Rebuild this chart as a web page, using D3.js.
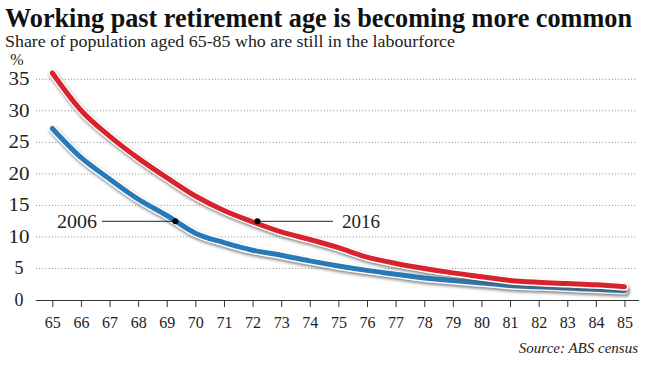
<!DOCTYPE html>
<html><head><meta charset="utf-8">
<script src="https://cdn.jsdelivr.net/npm/d3@7/dist/d3.min.js"></script>
<style>body{margin:0;background:#fff}svg{display:block}
svg text{font-family:"Liberation Serif","Times New Roman","DejaVu Serif",serif !important}</style>
</head><body>
<script>
const ages = [65,66,67,68,69,70,71,72,73,74,75,76,77,78,79,80,81,82,83,84,85];
const y2006 = [27.2,22.6,19.2,16.0,13.4,10.6,9.1,7.9,7.1,6.2,5.4,4.7,4.1,3.5,3.1,2.7,2.3,2.1,1.9,1.7,1.5];
const y2016 = [36.0,30.1,26.0,22.5,19.4,16.5,14.2,12.4,10.8,9.6,8.3,6.8,5.8,5.0,4.3,3.7,3.1,2.8,2.6,2.4,2.1];
const yTicks = [0,5,10,15,20,25,30,35];
const seriesNames = ["2006","2016"];
const labelPoints = [69.3, 72.17];

const W=649,H=365;
const svg=d3.select("body").append("svg").attr("width",W).attr("height",H);
const x=d3.scaleLinear().domain([65,85]).range([52.3,624.5]);
const y=d3.scaleLinear().domain([0,35]).range([300,79.3]);

const defs=svg.append("defs");
const f=defs.append("filter").attr("id","sh").attr("x","-10%").attr("y","-10%").attr("width","120%").attr("height","130%");
f.append("feGaussianBlur").attr("stdDeviation",1.6);

svg.append("g").attr("transform","translate(5,27) scale(1,1.12)")
  .append("text").attr("x",0).attr("y",0).attr("font-weight","bold")
  .attr("font-size",24).attr("textLength",627).attr("lengthAdjust","spacingAndGlyphs").attr("fill","#111")
  .text("Working past retirement age is becoming more common");
svg.append("g").attr("transform","translate(5,47) scale(1,1.15)")
  .append("text").attr("x",0).attr("y",0)
  .attr("font-size",14.5).attr("textLength",450).attr("lengthAdjust","spacingAndGlyphs").attr("fill","#222")
  .text("Share of population aged 65-85 who are still in the labourforce");
svg.append("text").attr("x",17).attr("y",65).attr("text-anchor","middle")
  .attr("font-size",16).attr("fill","#222").text("%");

// gridlines
svg.append("g").selectAll("line").data(yTicks.filter(d=>d>0)).join("line")
  .attr("x1",36).attr("x2",636).attr("y1",d=>y(d)).attr("y2",d=>y(d))
  .attr("stroke","#8a8a8a").attr("stroke-width",1).attr("stroke-dasharray","1,2.2");
// y labels
svg.append("g").selectAll("text").data(yTicks).join("text")
  .attr("x",19).attr("y",d=>y(d)+6).attr("text-anchor","middle")
  .attr("font-size",18).attr("fill","#222").attr("textLength",d=>String(d).length>1?21:null)
  .attr("lengthAdjust","spacingAndGlyphs").text(d=>d);

// x axis
const xa=svg.append("g").attr("transform","translate(0,300)")
  .call(d3.axisBottom(x).tickValues(ages).tickSize(7).tickPadding(9).tickFormat(d3.format("d")));
xa.attr("font-family",null);
xa.select(".domain").attr("d","M36,0.5H639").attr("stroke","#333");
xa.selectAll(".tick line").attr("stroke","#333");
xa.selectAll(".tick text").attr("font-size",17).attr("fill","#222")
  .attr("textLength",16).attr("lengthAdjust","spacingAndGlyphs");

const line=d3.line().x((d,i)=>x(ages[i])).y(d=>y(d)).curve(d3.curveMonotoneX);
const cols=["#2879b8","#d8222c"];
[y2006,y2016].forEach((vals,k)=>{
  const g=svg.append("g");
  g.append("path").attr("d",line(vals)).attr("fill","none").attr("stroke","#555").attr("stroke-opacity",0.7)
    .attr("stroke-width",8).attr("stroke-linecap","round").attr("filter","url(#sh)").attr("transform","translate(1,2)");
  g.append("path").attr("d",line(vals)).attr("fill","none").attr("stroke","#fff")
    .attr("stroke-width",8).attr("stroke-linecap","round");
  g.append("path").attr("d",line(vals)).attr("fill","none").attr("stroke",cols[k])
    .attr("stroke-width",5).attr("stroke-linecap","round");
});

// annotations
const ay=221.3;
svg.append("line").attr("x1",102).attr("x2",x(labelPoints[0])).attr("y1",ay).attr("y2",ay).attr("stroke","#222").attr("stroke-width",1);
svg.append("line").attr("x1",x(labelPoints[1])).attr("x2",333).attr("y1",ay).attr("y2",ay).attr("stroke","#222").attr("stroke-width",1);
labelPoints.forEach(a=>svg.append("circle").attr("cx",x(a)).attr("cy",ay).attr("r",3).attr("fill","#000"));
svg.append("text").attr("x",57).attr("y",228).attr("font-size",18).attr("fill","#222")
  .attr("textLength",40).attr("lengthAdjust","spacingAndGlyphs").text(seriesNames[0]);
svg.append("text").attr("x",342).attr("y",228).attr("font-size",18).attr("fill","#222")
  .attr("textLength",38).attr("lengthAdjust","spacingAndGlyphs").text(seriesNames[1]);

svg.append("text").attr("x",638).attr("y",353).attr("text-anchor","end")
  .attr("font-style","italic").attr("font-size",15).attr("fill","#222").text("Source: ABS census");
</script>
</body></html>
